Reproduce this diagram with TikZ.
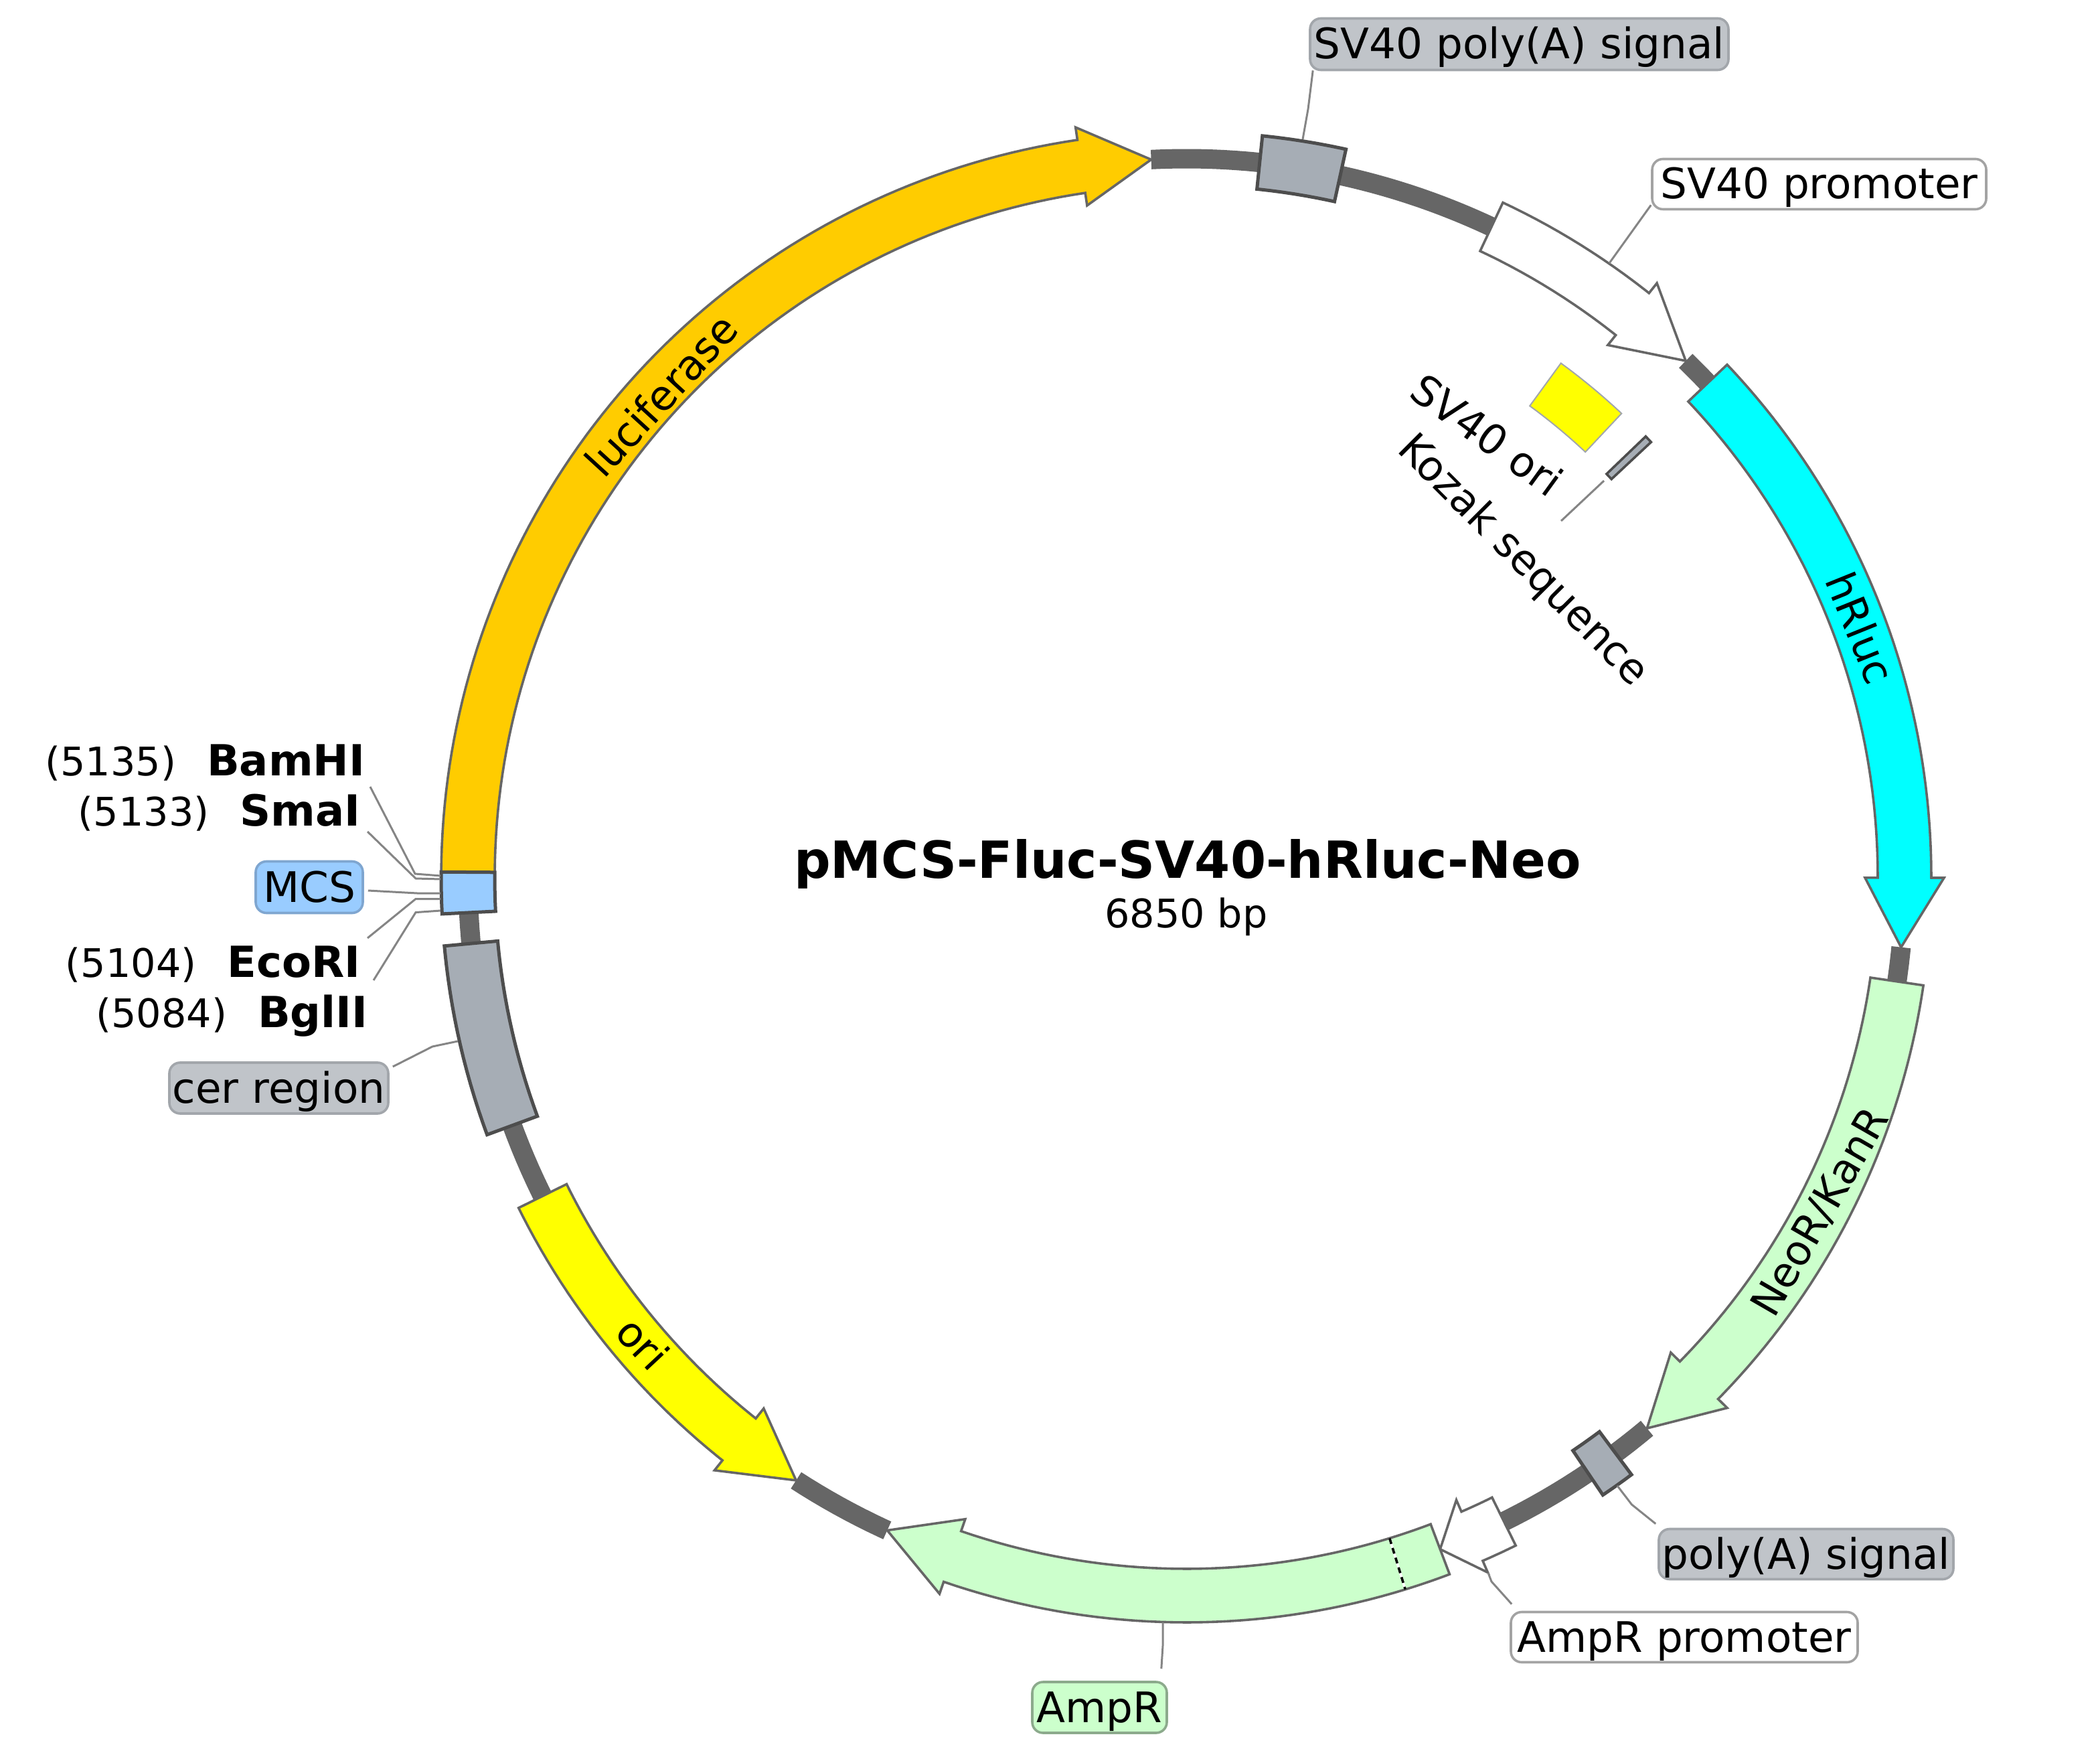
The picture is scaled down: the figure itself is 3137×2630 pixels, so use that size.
\documentclass[tikz,border=0pt]{standalone}
\usepackage{fontspec}
\setmainfont{DejaVu Sans}
\usetikzlibrary{calc}
\definecolor{bb}{HTML}{666666}
\definecolor{edgeg}{HTML}{666666}
\definecolor{edged}{HTML}{4D4D4D}
\definecolor{lead}{HTML}{858585}
\definecolor{grayf}{HTML}{A6ADB5}
\definecolor{grayl}{HTML}{C0C4C9}
\definecolor{grayb}{HTML}{A2A6AB}
\definecolor{whiteb}{HTML}{A3A3A3}
\definecolor{lucf}{HTML}{FFCC00}
\definecolor{cyanf}{HTML}{00FFFF}
\definecolor{greenf}{HTML}{CCFFCC}
\definecolor{greenb}{HTML}{8CAA8C}
\definecolor{yelf}{HTML}{FFFF00}
\definecolor{bluef}{HTML}{99CCFF}
\definecolor{blueb}{HTML}{7FA6D0}
\newcommand{\fs}{\fontsize{15.7pt}{18pt}\selectfont}
\newcommand{\fsr}{\fontsize{15.5pt}{18pt}\selectfont}
\newcommand{\fsn}{\fontsize{14.7pt}{18pt}\selectfont}
\newcommand{\fsb}{\fontsize{16pt}{18pt}\selectfont\bfseries}
\newcommand{\site}[2]{{\fsn #1}\hspace{11.5pt}{\fsb #2}}
\tikzset{
  x=0.25pt,y=-0.25pt,
  backbone/.style={draw=bb,line width=7.25pt,line cap=butt},
  gene/.style={draw=edgeg,line width=0.9pt,line join=miter},
  boxf/.style={draw=edged,line width=1.25pt,fill=grayf,line join=miter},
  leader/.style={draw=lead,line width=0.75pt},
  tag/.style={rounded corners=4pt,line width=0.9pt,inner sep=0pt,font=\fs,text height=13pt,text depth=2pt,align=center},
  graytag/.style={tag,draw=grayb,fill=grayl},
  whitetag/.style={tag,draw=whiteb,fill=white},
  txt/.style={inner sep=0pt,text height=13pt,text depth=2pt},
  rtxt/.style={inner sep=0pt,font=\fsr,text height=11.6pt,text depth=3.1pt},
}
\newcommand{\cx}{1772}
\newcommand{\cy}{1310}
% backbone segment: from, to
\newcommand{\bbseg}[2]{\draw[backbone] plot[domain=#1:#2,samples=60]({\cx+1073*sin(\x)},{\cy-1073*cos(\x)});}
% arrow gene: colour, start, head, tip
\newcommand{\arrowgene}[4]{\draw[gene,fill=#1] plot[domain=#2:#3,samples=80]({\cx+1113*sin(\x)},{\cy-1113*cos(\x)})
  -- ({\cx+1132*sin(#3)},{\cy-1132*cos(#3)})
  -- ({\cx+1073*sin(#4)},{\cy-1073*cos(#4)})
  -- ({\cx+1014*sin(#3)},{\cy-1014*cos(#3)})
  -- ({\cx+1033*sin(#3)},{\cy-1033*cos(#3)})
  -- plot[domain=#3:#2,samples=80]({\cx+1033*sin(\x)},{\cy-1033*cos(\x)}) -- cycle;}
% plain box: style, r in, r out, from, to
\newcommand{\arcbox}[5]{\draw[#1] plot[domain=#4:#5,samples=30]({\cx+#3*sin(\x)},{\cy-#3*cos(\x)})
  -- plot[domain=#5:#4,samples=30]({\cx+#2*sin(\x)},{\cy-#2*cos(\x)}) -- cycle;}
\begin{document}
\begin{tikzpicture}
\useasboundingbox (0,0) rectangle (3137,2630);
% backbone
\bbseg{357.2}{385.15}
\bbseg{44.06}{46.6}
\bbseg{95.6}{98.35}
\bbseg{140.1}{153.75}
\bbseg{204.6}{212.9}
\bbseg{243.65}{249.8}
\bbseg{264.7}{267.2}
% features
\arrowgene{lucf}{270.4}{351.6}{357.2}
\arcbox{boxf}{1033}{1113}{5.87}{12.38}
\arrowgene{white}{25.15}{38.4}{44.06}
\arrowgene{cyanf}{46.55}{90.05}{95.6}
\arrowgene{greenf}{98.35}{134.45}{140.1}
\arcbox{boxf}{1033}{1113}{143.3}{146.0}
\arrowgene{white}{153.75}{156.55}{159.3}
\arrowgene{greenf}{159.3}{199}{204.6}
\coordinate (dA) at ({\cx+1033*sin(162.9)},{\cy-1033*cos(162.9)});
\coordinate (dB) at ({\cx+1113*sin(162.9)},{\cy-1113*cos(162.9)});
\draw[white,line width=0.9pt] (dA) -- (dB);
\draw[black,line width=0.9pt,dash pattern=on 2.2pt off 1.6pt] (dA) -- (dB);
\arrowgene{yelf}{243.65}{218.5}{212.9}
\arcbox{boxf}{1033}{1113}{249.78}{264.7}
\arcbox{boxf,fill=bluef}{1033}{1113}{267.17}{270.4}
\arcbox{draw=grayb,line width=0.5pt,fill=yelf}{871}{950}{36.1}{43.2}
\arcbox{boxf,line width=0.9pt}{870}{951}{46.2}{46.9}
% labels
\node[graytag,minimum width=156.25pt,minimum height=19.25pt] (lSVpA) at (2269.5,66) {SV40 poly(A) signal};
\node[whitetag,minimum width=124.75pt,minimum height=18.75pt] (lSVpr) at (2717.5,275) {SV40 promoter};
\node[tag,draw=blueb,fill=bluef,minimum width=40pt,minimum height=19.25pt] (lMCS) at (462,1325) {MCS};
\node[graytag,minimum width=81.75pt,minimum height=19pt] (lcer) at (416.5,1625) {cer region};
\node[graytag,minimum width=110pt,minimum height=18.75pt] (lpA) at (2698,2321) {poly(A) signal};
\node[whitetag,minimum width=129.5pt,minimum height=18.75pt] (lAprom) at (2516,2445) {AmpR promoter};
\node[tag,draw=greenb,fill=greenf,minimum width=50.25pt,minimum height=19pt] (lAmp) at (1642.5,2550) {AmpR};
\node[txt,anchor=east] (sBam) at (546,1137) {\site{(5135)}{BamHI}};
\node[txt,anchor=east] (sSma) at (539,1212) {\site{(5133)}{SmaI}};
\node[txt,anchor=east] (sEco) at (539,1437) {\site{(5104)}{EcoRI}};
\node[txt,anchor=east] (sBgl) at (550,1512) {\site{(5084)}{BglII}};
\node[rtxt,rotate=47.5] (tLuc) at (992,594) {luciferase};
\node[rtxt,rotate=-68] (tRl) at (2774,940) {hRluc};
\node[rtxt,rotate=60] (tNeo) at (2722,1812) {NeoR/KanR};
\node[rtxt,rotate=-47] (tOri) at (956,2010) {ori};
\node[rtxt,rotate=-36] (tSVo) at (2218,654) {SV40 ori};
\node[rtxt,rotate=-45] (tKoz) at (2274,838) {Kozak sequence};
\node[inner sep=0pt,font=\fontsize{19.1pt}{22pt}\selectfont\bfseries] (tTitle) at (1774,1290) {pMCS-Fluc-SV40-hRluc-Neo};
\node[inner sep=0pt,font=\fontsize{14.7pt}{18pt}\selectfont] (tSize) at (1772,1369) {6850 bp};
% leader anchors
\coordinate (fBam) at (658,1308); \coordinate (kBam) at (620,1305); \coordinate (eBam) at (553,1175);
\coordinate (fSma) at (658,1313); \coordinate (kSma) at (621,1312); \coordinate (eSma) at (549,1242);
\coordinate (fMCS) at (658,1334); \coordinate (kMCS) at (623,1334);
\coordinate (fEco) at (658,1342.5); \coordinate (kEco) at (621,1342.5); \coordinate (eEco) at (549,1401);
\coordinate (fBgl) at (658,1360); \coordinate (kBgl) at (621,1362.6); \coordinate (eBgl) at (558,1464);
\coordinate (fcer) at (684,1555); \coordinate (kcer) at (646,1563);
\coordinate (fSVpA) at (1946,208); \coordinate (kSVpA) at (1954,163);
\coordinate (fSVpr) at (2404,393);
\coordinate (fpA) at (2416,2219); \coordinate (kpA) at (2437.5,2247);
\coordinate (fAprom) at (2223,2349); \coordinate (kAprom) at (2228,2362);
\coordinate (fAmp) at (1737,2423); \coordinate (kAmp) at (1737,2458);
\coordinate (fKoz) at (2396,718); \coordinate (eKoz) at (2332,778);
% leaders
\draw[leader] (eBam) -- (kBam) -- (fBam);
\draw[leader] (eSma) -- (kSma) -- (fSma);
\draw[leader] ([shift={(6,5)}]lMCS.east) -- (kMCS) -- (fMCS);
\draw[leader] (eEco) -- (kEco) -- (fEco);
\draw[leader] (eBgl) -- (kBgl) -- (fBgl);
\draw[leader] ([shift={(5,-32)}]lcer.east) -- (kcer) -- (fcer);
\draw[leader] ([shift={(6,-1)}]lSVpA.south west) -- (kSVpA) -- (fSVpA);
\draw[leader] ([shift={(0,-8)}]lSVpr.south west) -- (fSVpr);
\draw[leader] ([shift={(-3,-6)}]lpA.north west) -- (kpA) -- (fpA);
\draw[leader] ([shift={(3,-10)}]lAprom.north west) -- (kAprom) -- (fAprom);
\draw[leader] ([shift={(-10,-18)}]lAmp.north east) -- (kAmp) -- (fAmp);
\draw[leader] (fKoz) -- (eKoz);
\end{tikzpicture}
\end{document}
